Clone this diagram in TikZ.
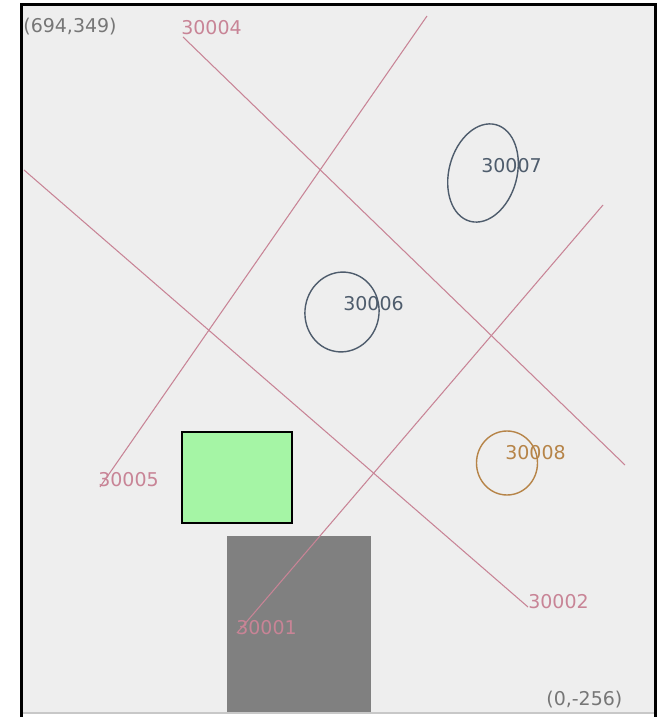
\documentclass[tikz,border=0pt]{standalone}
\usepackage{fontspec}
\setmainfont{DejaVu Sans}
\usepackage{xcolor}
\usepackage{tikz}
\usetikzlibrary{calc}
\definecolor{mypanel}{RGB}{238,238,238}
\definecolor{myrose}{RGB}{200,132,150}
\definecolor{myslate}{RGB}{78,92,108}
\definecolor{mybrown}{RGB}{182,132,72}
\definecolor{mygreen}{RGB}{165,245,165}
\definecolor{mygrey}{RGB}{128,128,128}
\definecolor{mycorner}{RGB}{118,118,118}
\definecolor{myrule}{RGB}{200,200,200}
\tikzset{
  road/.style={color=myrose, line width=0.6pt},
  roadlabel/.style={anchor=west, inner sep=0pt, text=myrose,
    font=\fontsize{10.8}{12}\selectfont},
  cornerlabel/.style={anchor=west, inner sep=0pt, text=mycorner,
    font=\fontsize{10.8}{12}\selectfont},
  zone/.style={line width=0.8pt},
  zonelabel/.style={anchor=west, inner sep=0pt,
    font=\fontsize{10.8}{12}\selectfont}
}

\begin{document}
\begin{tikzpicture}
  \useasboundingbox (0,0) rectangle (13.22,14.34);

  % Panel and frame
  \fill[mypanel] (0.44,0.08) rectangle (13.10,14.24);
  \draw[myrule, line width=1.2pt] (0.45,0.08) -- (13.09,0.08);
  \draw[black, line width=1.7pt] (0.43,0) -- (0.43,14.25) -- (13.11,14.25) -- (13.11,0);

  % Blocks
  \fill[mygrey] (4.54,0.10) rectangle (7.42,3.62);
  \draw[black, fill=mygreen, line width=0.6pt] (3.64,3.88) rectangle (5.84,5.70);

  % Road ends
  \coordinate (l4a) at (3.66, 13.60);
  \coordinate (l4b) at (12.50, 5.04);
  \coordinate (l5a) at (2.00, 4.60);
  \coordinate (l5b) at (8.54, 14.02);
  \coordinate (l2a) at (0.48, 10.94);
  \coordinate (l2b) at (10.56, 2.20);
  \coordinate (l1a) at (4.74, 1.68);
  \coordinate (l1b) at (12.06, 10.24);

  % Roads
  \draw[road] (l4a) -- (l4b);
  \draw[road] (l5a) -- (l5b);
  \draw[road] (l2a) -- (l2b);
  \draw[road] (l1a) -- (l1b);

  \node[roadlabel] (n4) at (3.62, 13.78) {30004};
  \node[roadlabel] (n5) at (1.96, 4.74) {30005};
  \node[roadlabel] (n2) at (10.56, 2.30) {30002};
  \node[roadlabel] (n1) at (4.72, 1.78) {30001};

  % Corners
  \node[cornerlabel] (ctop) at (0.46, 13.80) {(694,349)};
  \node[cornerlabel] (cbot) at (10.92, 0.34) {(0,-256)};

  % Zones
  \draw[zone, myslate, rotate around={-15:(9.66,10.88)}] (9.66,10.88) ellipse (0.68 and 1.0);
  \draw[zone, myslate, rotate around={-10:(6.84,8.10)}] (6.84,8.10) ellipse (0.74 and 0.80);
  \draw[zone, mybrown] (10.14,5.08) ellipse (0.61 and 0.64);

  \node[zonelabel, text=myslate] (z7) at (9.62, 11.02) {30007};
  \node[zonelabel, text=myslate] (z6) at (6.86, 8.26) {30006};
  \node[zonelabel, text=mybrown] (z8) at (10.10, 5.28) {30008};
\end{tikzpicture}
\end{document}
